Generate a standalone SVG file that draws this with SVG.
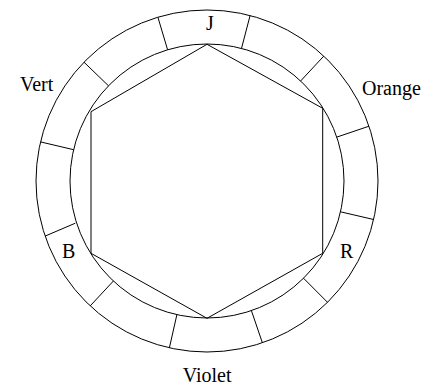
<svg xmlns="http://www.w3.org/2000/svg" width="425" height="386" viewBox="0 0 425 386">
<style>
.s{fill:none;stroke:#000;stroke-width:1}
.t{font-family:"Liberation Serif","Times New Roman",serif;font-size:20px;fill:#000}
</style>
<rect width="425" height="386" fill="#fff"/>
<g id="ring">
<circle class="s" cx="207" cy="181" r="171"/>
<circle class="s" cx="207" cy="181" r="137"/>
</g>
<g id="connectors">
<path class="s" d="M157.9,17.2L167.6,49.8M250.1,15.5L241.5,48.4M323.8,56.1L300.6,81M369,126.2L336.8,137.1M373.6,219.5L340.5,211.8M327.5,302.3L303.5,278.2M262.4,342.8L251.4,310.6M169.4,347.8L176.9,314.6M90.2,305.9L113.4,281M45.1,236.1L75.3,223.2M40.5,141.9L73.6,149.7M84,62.2L108.5,85.8"/>
</g>
<g id="hexagon">
<polygon class="s" points="207,44.3 322.7,108.3 322.7,253.3 207,318.3 91,253.3 91,111.7"/>
</g>
<g id="labels">
<text class="t" x="210" y="30" text-anchor="middle">J</text>
<text class="t" x="20" y="91">Vert</text>
<text class="t" x="362" y="95">Orange</text>
<text class="t" x="62" y="258">B</text>
<text class="t" x="340" y="258">R</text>
<text class="t" x="182.7" y="382">Violet</text>
</g>
</svg>
